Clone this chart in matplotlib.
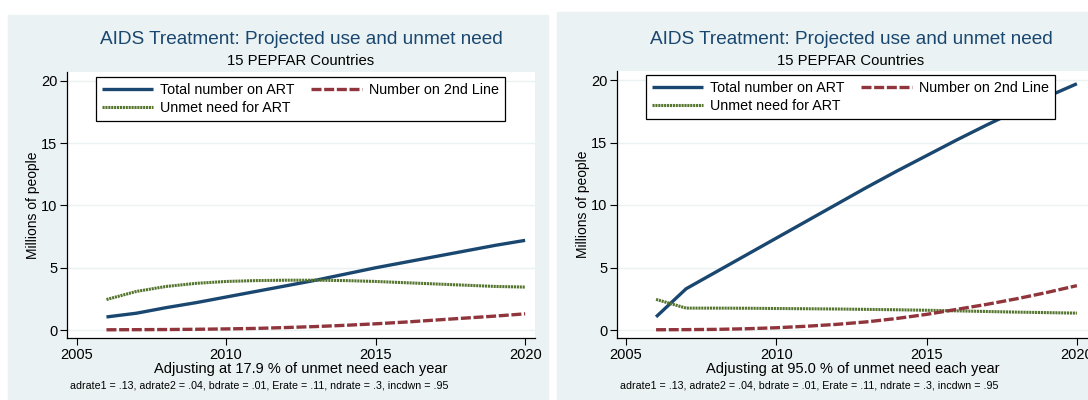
import matplotlib.pyplot as plt
from matplotlib.patches import Rectangle

plt.rcParams['font.family'] = ['Liberation Sans', 'DejaVu Sans']

years = [2006, 2007, 2008, 2009, 2010, 2011, 2012, 2013, 2014, 2015, 2016, 2017, 2018, 2019, 2020]

# left panel: 17.9 % of unmet need
total_a = [1.05, 1.35, 1.8, 2.2, 2.65, 3.1, 3.55, 4.0, 4.5, 5.0, 5.45, 5.9, 6.35, 6.8, 7.2]
second_a = [0.02, 0.03, 0.04, 0.06, 0.09, 0.13, 0.2, 0.28, 0.38, 0.5, 0.64, 0.8, 0.96, 1.12, 1.3]
unmet_a = [2.45, 3.1, 3.5, 3.75, 3.9, 3.97, 4.0, 4.0, 3.97, 3.9, 3.8, 3.7, 3.6, 3.5, 3.45]

# right panel: 95.0 % of unmet need
total_b = [1.05, 3.3, 4.65, 6.0, 7.35, 8.7, 10.05, 11.4, 12.7, 13.95, 15.2, 16.4, 17.55, 18.65, 19.7]
second_b = [0.02, 0.03, 0.05, 0.1, 0.18, 0.3, 0.45, 0.65, 0.92, 1.25, 1.65, 2.05, 2.5, 3.0, 3.55]
unmet_b = [2.45, 1.75, 1.75, 1.74, 1.72, 1.7, 1.68, 1.65, 1.62, 1.58, 1.53, 1.48, 1.43, 1.39, 1.35]

xticks = [2005, 2010, 2015, 2020]
yticks = [0, 5, 10, 15, 20]
title = "AIDS Treatment: Projected use and unmet need"
subtitle = "15 PEPFAR Countries"
note = "adrate1 = .13, adrate2 = .04, bdrate = .01, Erate = .11, ndrate = .3, incdwn = .95"

navy = '#1a476f'
maroon = '#90353b'
green = '#55752f'
bg = '#eaf2f3'

W, H = 1088, 400
fig = plt.figure(figsize=(W / 100, H / 100), dpi=100)

# panel backgrounds (pixel coords, y from top)
for x0, x1, y0 in [(7.6, 548, 15), (557, 1088, 12)]:
    fig.patches.append(Rectangle((x0 / W, 0), (x1 - x0) / W, 1 - y0 / H,
                                 transform=fig.transFigure, color=bg, zorder=-5))


def panel(px_left, px_right, px_top, xlim, ylim, total, second, unmet, pct, title_x, leg_xy):
    ax = fig.add_axes([px_left / W, (H - 338) / H, (px_right - px_left) / W, (338 - px_top) / H])
    ax.set_zorder(2)
    ax.set_facecolor('white')
    for y in yticks:
        ax.axhline(y, color=bg, lw=1, zorder=0)
    ax.plot(years, total, color=navy, lw=2.4, label='Total number on ART', solid_capstyle='butt')
    ax.plot(years, unmet, color=green, lw=2.2, linestyle=(0, (0.7, 0.25)), label='Unmet need for ART')
    ax.plot(years, second, color=maroon, lw=2.4, linestyle=(0, (3.0, 0.8)), label='Number on 2nd Line')
    ax.set_xlim(*xlim)
    ax.set_ylim(*ylim)
    ax.set_xticks(xticks)
    ax.set_yticks(yticks)
    ax.tick_params(labelsize=10.5, length=5, width=0.8, pad=2)
    for s in ['top', 'right']:
        ax.spines[s].set_visible(False)
    for s in ['left', 'bottom']:
        ax.spines[s].set_linewidth(0.9)
    ax.set_ylabel('Millions of people', fontsize=10, labelpad=1)
    ax.set_xlabel(f'Adjusting at {pct} % of unmet need each year', fontsize=10.5, labelpad=0)
    leg = ax.legend(ncol=2, loc='upper left', bbox_to_anchor=leg_xy, fontsize=10.3,
                    frameon=True, fancybox=False, edgecolor='black', framealpha=1,
                    handlelength=3.6, handletextpad=0.5, columnspacing=1.1,
                    labelspacing=0.3, borderpad=0.4, borderaxespad=0)
    leg.get_frame().set_linewidth(0.9)
    fig.text(title_x / W, 1 - 39 / H, title, ha='center', va='center', fontsize=13.7, color=navy)
    fig.text(title_x / W, 1 - 61 / H, subtitle, ha='center', va='center', fontsize=10.7)
    fig.text((px_left + 3) / W, 1 - 386 / H, note, ha='left', va='center', fontsize=7.7)
    return ax


panel(67, 535, 72, (2004.68, 2020.33), (-0.64, 20.72), total_a, second_a, unmet_a, '17.9',
      301, ((96 - 67) / 468, (338 - 77) / 266))
panel(617, 1088, 71, (2004.70, 2020.37), (-0.64, 20.72), total_b, second_b, unmet_b, '95.0',
      851, ((646 - 617) / 471, (338 - 75) / 267))

fig.savefig('out.png', dpi=100)
